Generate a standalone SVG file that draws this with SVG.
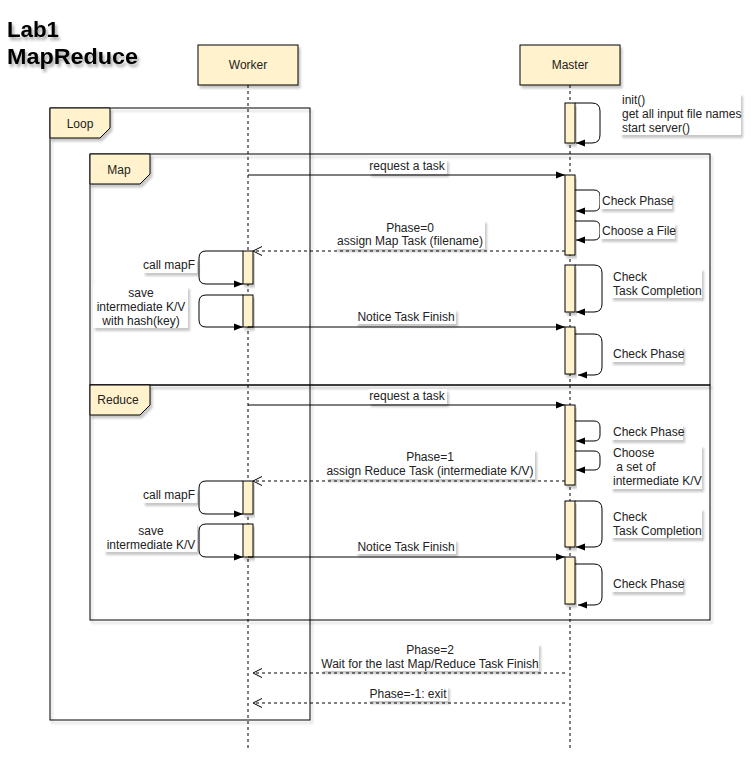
<svg xmlns="http://www.w3.org/2000/svg" width="753" height="765" viewBox="0 0 753 765">
<defs>
<filter id="sh" x="-10%" y="-10%" width="130%" height="140%">
<feDropShadow dx="2" dy="3" stdDeviation="1.2" flood-color="#000" flood-opacity="0.22"/>
</filter>
<filter id="tsh" x="-10%" y="-20%" width="130%" height="160%">
<feDropShadow dx="2" dy="3" stdDeviation="1.5" flood-color="#000" flood-opacity="0.35"/>
</filter>
<marker id="fa" markerWidth="10" markerHeight="8" refX="9" refY="4" orient="auto" markerUnits="userSpaceOnUse">
<path d="M0,0.5 L9,4 L0,7.5 Z" fill="#000"/>
</marker>
<marker id="oa" markerWidth="12" markerHeight="12" refX="10" refY="5.5" orient="auto" markerUnits="userSpaceOnUse">
<path d="M1,1 L10,5.5 L1,10" fill="none" stroke="#000" stroke-width="1"/>
</marker>
</defs>
<style>
.t{font-family:"Liberation Sans",Arial,Helvetica,sans-serif;font-size:12px;fill:#222}
.c{text-anchor:middle}
.e{text-anchor:end}
.title{font-family:"Liberation Sans",Arial,Helvetica,sans-serif;font-size:21.5px;font-weight:bold;fill:#000;filter:url(#tsh)}
.box{fill:#fff2cc;stroke:#000;stroke-width:1;filter:url(#sh)}
.act{fill:#fff2cc;stroke:#000;stroke-width:1;filter:url(#sh)}
.frame{fill:none;stroke:#000;stroke-width:1;filter:url(#sh)}
.life{stroke:#000;stroke-width:1;stroke-dasharray:3 3;fill:none}
.msg{stroke:#000;stroke-width:1;fill:none}
.sync{marker-end:url(#fa)}
.ret{stroke-dasharray:3 3;marker-end:url(#oa)}
.bg{fill:#fff;filter:url(#sh)}
</style>
<rect width="753" height="765" fill="#fff"/>

<g id="title">
<text class="title" x="7" y="37" textLength="52" lengthAdjust="spacingAndGlyphs">Lab1</text>
<text class="title" x="7" y="64" textLength="131" lengthAdjust="spacingAndGlyphs">MapReduce</text>
</g>

<g id="loop-frame">
<rect class="frame" x="50" y="108" width="260" height="612"/>
<path class="box" d="M50,108 H110 V128 L100,138 H50 Z"/>
<text class="t c" x="80" y="128">Loop</text>
</g>
<g id="map-frame">
<rect class="frame" x="90" y="154" width="620" height="231"/>
<path class="box" d="M90,154 H150 V174 L140,184 H90 Z"/>
<text class="t c" x="119" y="174">Map</text>
</g>
<g id="reduce-frame">
<rect class="frame" x="90" y="385" width="620" height="235"/>
<path class="box" d="M90,385 H150 V405 L140,415 H90 Z"/>
<text class="t c" x="118" y="404">Reduce</text>
</g>

<g id="worker">
<line class="life" x1="248" y1="85" x2="248" y2="750"/>
<rect class="box" x="198" y="45" width="100" height="40"/>
<text class="t c" x="248" y="69">Worker</text>
</g>
<g id="master">
<line class="life" x1="570" y1="85" x2="570" y2="750"/>
<rect class="box" x="520" y="45" width="100" height="40"/>
<text class="t c" x="570" y="69">Master</text>
</g>

<g id="master-activations">
<rect class="act" x="565" y="103" width="10" height="40"/>
<rect class="act" x="565" y="175" width="10" height="80"/>
<rect class="act" x="565" y="265" width="10" height="47"/>
<rect class="act" x="565" y="327" width="10" height="47"/>
<rect class="act" x="565" y="405" width="10" height="80"/>
<rect class="act" x="565" y="501" width="10" height="46"/>
<rect class="act" x="565" y="557" width="10" height="47"/>
</g>
<g id="worker-activations">
<rect class="act" x="243" y="251" width="10" height="33"/>
<rect class="act" x="243" y="295" width="10" height="32"/>
<rect class="act" x="243" y="481" width="10" height="33"/>
<rect class="act" x="243" y="524" width="10" height="33"/>
</g>

<g id="connectors">
<line class="msg sync" x1="248" y1="175" x2="565" y2="175"/>
<line class="msg ret" x1="565" y1="251" x2="253" y2="251"/>
<line class="msg sync" x1="248" y1="327" x2="565" y2="327"/>
<line class="msg sync" x1="248" y1="405" x2="565" y2="405"/>
<line class="msg ret" x1="565" y1="481" x2="253" y2="481"/>
<line class="msg sync" x1="248" y1="557" x2="565" y2="557"/>
<line class="msg ret" x1="565" y1="673" x2="253" y2="673"/>
<line class="msg ret" x1="565" y1="703" x2="253" y2="703"/>
<path class="msg sync" d="M575,103 H592 Q600,103 600,111 V135 Q600,143 592,143 H576"/>
<path class="msg sync" d="M575,190 H594 Q600,190 600,196 V205 Q600,211 594,211 H576"/>
<path class="msg sync" d="M575,221 H594 Q600,221 600,227 V234 Q600,240 594,240 H576"/>
<path class="msg sync" d="M575,265 H594 Q602,265 602,273 V304 Q602,312 594,312 H576"/>
<path class="msg sync" d="M575,334 H594 Q602,334 602,342 V367 Q602,375 594,375 H578"/>
<path class="msg sync" d="M575,421 H594 Q600,421 600,427 V435 Q600,441 594,441 H576"/>
<path class="msg sync" d="M575,451 H594 Q600,451 600,457 V464 Q600,470 594,470 H576"/>
<path class="msg sync" d="M575,501 H594 Q602,501 602,509 V539 Q602,547 594,547 H576"/>
<path class="msg sync" d="M575,564 H594 Q602,564 602,572 V597 Q602,605 594,605 H578"/>
<path class="msg sync" d="M243,251 H206 Q199,251 199,258 V277 Q199,284 206,284 H243"/>
<path class="msg sync" d="M243,295 H206 Q199,295 199,302 V320 Q199,327 206,327 H243"/>
<path class="msg sync" d="M243,481 H206 Q199,481 199,488 V507 Q199,514 206,514 H243"/>
<path class="msg sync" d="M243,524 H206 Q199,524 199,531 V550 Q199,557 206,557 H243"/>
</g>

<g id="labels">
<rect class="bg" x="620" y="93" width="121" height="42"/>
<text class="t" x="622" y="104">init()</text>
<text class="t" x="622" y="118">get all input file names</text>
<text class="t" x="622" y="132">start server()</text>

<rect class="bg" x="369" y="159" width="78" height="15"/>
<text class="t c" x="407" y="170">request a task</text>

<rect class="bg" x="600" y="193" width="72" height="16"/>
<text class="t" x="602" y="205">Check Phase</text>
<rect class="bg" x="600" y="223" width="75" height="16"/>
<text class="t" x="602" y="235">Choose a File</text>

<rect class="bg" x="335" y="220" width="150" height="29"/>
<text class="t c" x="410" y="232">Phase=0</text>
<text class="t c" x="410" y="245">assign Map Task (filename)</text>

<rect class="bg" x="611" y="268" width="91" height="30"/>
<text class="t" x="613" y="281">Check</text>
<text class="t" x="613" y="295">Task Completion</text>

<rect class="bg" x="143" y="258" width="54" height="15"/>
<text class="t e" x="195" y="269">call mapF</text>
<rect class="bg" x="93" y="286" width="95" height="42"/>
<text class="t c" x="141" y="297">save</text>
<text class="t c" x="141" y="311">intermediate K/V</text>
<text class="t c" x="141" y="325">with hash(key)</text>

<rect class="bg" x="356" y="309" width="100" height="15"/>
<text class="t c" x="406" y="321">Notice Task Finish</text>

<rect class="bg" x="611" y="346" width="72" height="16"/>
<text class="t" x="613" y="358">Check Phase</text>

<rect class="bg" x="369" y="389" width="78" height="15"/>
<text class="t c" x="407" y="400">request a task</text>

<rect class="bg" x="611" y="424" width="72" height="16"/>
<text class="t" x="613" y="436">Check Phase</text>
<rect class="bg" x="611" y="445" width="91" height="44"/>
<text class="t" x="613" y="457">Choose</text>
<text class="t" x="613" y="471" xml:space="preserve"> a set of</text>
<text class="t" x="613" y="485">intermediate K/V</text>

<rect class="bg" x="326" y="449" width="209" height="30"/>
<text class="t c" x="430" y="461">Phase=1</text>
<text class="t c" x="430" y="475">assign Reduce Task (intermediate K/V)</text>

<rect class="bg" x="143" y="488" width="54" height="15"/>
<text class="t e" x="195" y="499">call mapF</text>
<rect class="bg" x="104" y="523" width="93" height="29"/>
<text class="t c" x="151" y="535">save</text>
<text class="t c" x="151" y="549">intermediate K/V</text>

<rect class="bg" x="611" y="508" width="91" height="30"/>
<text class="t" x="613" y="521">Check</text>
<text class="t" x="613" y="535">Task Completion</text>

<rect class="bg" x="356" y="539" width="100" height="15"/>
<text class="t c" x="406" y="551">Notice Task Finish</text>

<rect class="bg" x="611" y="576" width="72" height="16"/>
<text class="t" x="613" y="588">Check Phase</text>

<rect class="bg" x="321" y="643" width="218" height="28"/>
<text class="t c" x="430" y="654">Phase=2</text>
<text class="t c" x="430" y="668">Wait for the last Map/Reduce Task Finish</text>

<rect class="bg" x="368" y="686" width="80" height="15"/>
<text class="t c" x="408" y="698">Phase=-1: exit</text>
</g>
</svg>
